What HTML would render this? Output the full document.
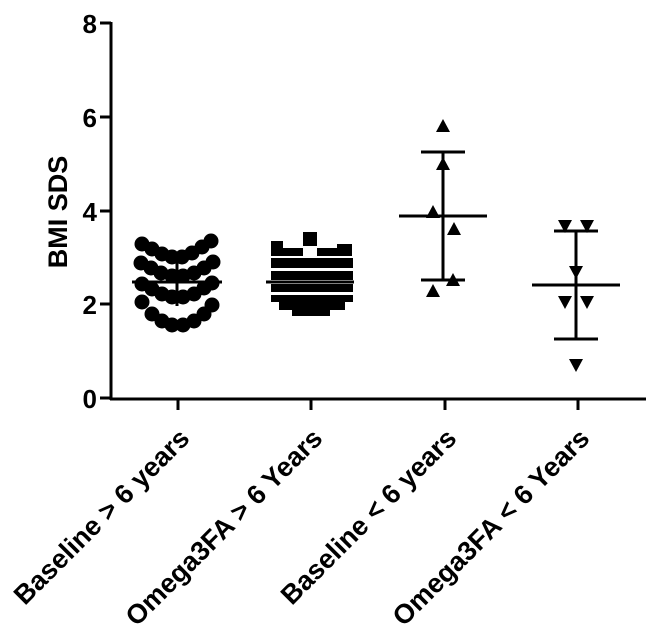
<!DOCTYPE html>
<html><head><style>body{margin:0;background:#fff}svg{display:block}</style></head><body>
<svg width="651" height="638" viewBox="0 0 651 638" xmlns="http://www.w3.org/2000/svg" font-family="Liberation Sans, Arial, sans-serif" font-weight="bold">
<g stroke="#000" stroke-width="3" fill="none">
<line x1="111" y1="22" x2="111" y2="400"/>
<line x1="110" y1="399" x2="646" y2="399"/>
<line x1="100" y1="23" x2="111" y2="23"/>
<line x1="100" y1="117" x2="111" y2="117"/>
<line x1="100" y1="211" x2="111" y2="211"/>
<line x1="100" y1="304" x2="111" y2="304"/>
<line x1="100" y1="398" x2="111" y2="398"/>
<line x1="178" y1="399" x2="178" y2="410"/>
<line x1="311" y1="399" x2="311" y2="410"/>
<line x1="445" y1="399" x2="445" y2="410"/>
<line x1="578" y1="399" x2="578" y2="410"/>
</g>
<g font-size="26" text-anchor="end">
<text x="97" y="33">8</text><text x="97" y="127">6</text><text x="97" y="221">4</text><text x="97" y="314">2</text><text x="97" y="408">0</text>
</g>
<text transform="translate(67,212) rotate(-90)" font-size="27" text-anchor="middle">BMI SDS</text>
<g font-size="27" text-anchor="end">
<text transform="translate(191,440) rotate(-45)">Baseline &gt; 6 years</text>
<text transform="translate(324,440) rotate(-45)">Omega3FA &gt; 6 Years</text>
<text transform="translate(458,440) rotate(-45)">Baseline &lt; 6 years</text>
<text transform="translate(591,440) rotate(-45)">Omega3FA &lt; 6 Years</text>
</g>
<g fill="#000">
<circle cx="142" cy="244" r="7.5"/><circle cx="152" cy="249" r="7.5"/><circle cx="162" cy="254" r="7.5"/><circle cx="172" cy="257" r="7.5"/><circle cx="182" cy="257" r="7.5"/><circle cx="192" cy="253" r="7.5"/><circle cx="202" cy="247" r="7.5"/><circle cx="211" cy="241" r="7.5"/>
<circle cx="141" cy="263" r="7.5"/><circle cx="151" cy="268" r="7.5"/><circle cx="161" cy="273" r="7.5"/><circle cx="172" cy="276" r="7.5"/><circle cx="183" cy="276" r="7.5"/><circle cx="194" cy="273" r="7.5"/><circle cx="204" cy="268" r="7.5"/><circle cx="213" cy="262" r="7.5"/>
<circle cx="142" cy="284" r="7.5"/><circle cx="152" cy="289" r="7.5"/><circle cx="162" cy="294" r="7.5"/><circle cx="172" cy="297" r="7.5"/><circle cx="183" cy="297" r="7.5"/><circle cx="194" cy="294" r="7.5"/><circle cx="204" cy="288" r="7.5"/><circle cx="212" cy="283" r="7.5"/>
<circle cx="142" cy="302" r="7.5"/><circle cx="152" cy="314" r="7.5"/><circle cx="162" cy="321" r="7.5"/><circle cx="172" cy="325" r="7.5"/><circle cx="183" cy="325" r="7.5"/><circle cx="194" cy="321" r="7.5"/><circle cx="204" cy="314" r="7.5"/><circle cx="212" cy="305" r="7.5"/>
<rect x="303" y="232" width="14" height="14"/>
<path d="M271 241h12v7h20v8h14v-8h20v-4h15v12h-81z"/>
<path d="M271 258h82v10h-82z"/>
<path d="M271 271h82v9h-82z"/>
<path d="M271 284h82v8h-82z"/>
<path d="M271 295h82v7h-8v8h-15v6h-38v-6h-13v-8h-8z"/>
<path d="M443 119l-7 13h14z M443 157l-7 13h14z M433 205l-7 13h14z M454 222l-7 13h14z M453 273l-7 13h14z M433 284l-7 13h14z"/>
<path d="M558 220l14 0l-7 13z M580 220l14 0l-7 13z M569 266l14 0l-7 13z M558 296l14 0l-7 13z M580 296l14 0l-7 13z M569 359l14 0l-7 13z"/>
</g>
<g stroke="#000" stroke-width="3">
<line x1="132" y1="282" x2="222" y2="282"/><line x1="177" y1="258" x2="177" y2="306"/>
<line x1="266" y1="282" x2="354" y2="282"/>
<line x1="399" y1="216" x2="487" y2="216"/><line x1="421" y1="152" x2="465" y2="152"/><line x1="421" y1="280" x2="465" y2="280"/><line x1="443" y1="152" x2="443" y2="280"/>
<line x1="532" y1="285" x2="620" y2="285"/><line x1="554" y1="231" x2="598" y2="231"/><line x1="554" y1="339" x2="598" y2="339"/><line x1="576" y1="231" x2="576" y2="339"/>
</g>
</svg>
</body></html>
